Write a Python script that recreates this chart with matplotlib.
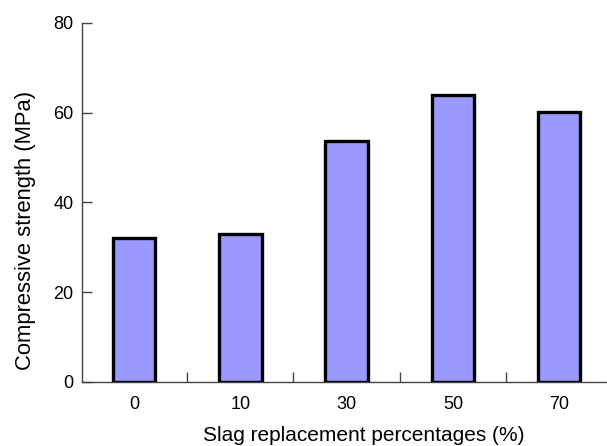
import matplotlib
matplotlib.use("Agg")
import matplotlib.pyplot as plt

categories = ["0", "10", "30", "50", "70"]
strength = [32.1, 32.9, 53.6, 64.0, 60.2]
y_ticks = [0, 20, 40, 60, 80]

plt.rcParams['font.family'] = ['Liberation Sans', 'DejaVu Sans']

fig = plt.figure(figsize=(6.07, 4.46), dpi=100)
ax = fig.add_axes([0.135, 0.144, 0.865, 0.805])

x = range(len(categories))
ax.bar(x, strength, width=0.4, color="#9999ff", edgecolor="black", linewidth=2.4, zorder=3)

ax.set_xlim(-0.49, 4.45)
ax.set_ylim(0, 80)
ax.set_yticks(y_ticks)
ax.set_xticks(list(x))
ax.set_xticklabels(categories)
ax.set_xticks([i + 0.5 for i in range(len(categories) - 1)], minor=True)

for side in ("top", "right"):
    ax.spines[side].set_visible(False)
for side in ("left", "bottom"):
    ax.spines[side].set_color("#444444")
    ax.spines[side].set_linewidth(1.0)

ax.tick_params(axis="y", direction="in", length=7, width=1, color="#444444", labelsize=13, pad=6)
ax.tick_params(axis="x", which="major", length=0, labelsize=13, pad=10)
ax.tick_params(axis="x", which="minor", direction="in", length=7, width=1, color="#444444")

ax.set_ylabel("Compressive strength (MPa)", fontsize=15.8)
ax.yaxis.set_label_coords(-0.0876, 0.421)
ax.set_xlabel("Slag replacement percentages (%)", fontsize=15, va="baseline")
ax.xaxis.set_label_coords(0.5366, -0.165)

fig.savefig("out.png", dpi=100)
